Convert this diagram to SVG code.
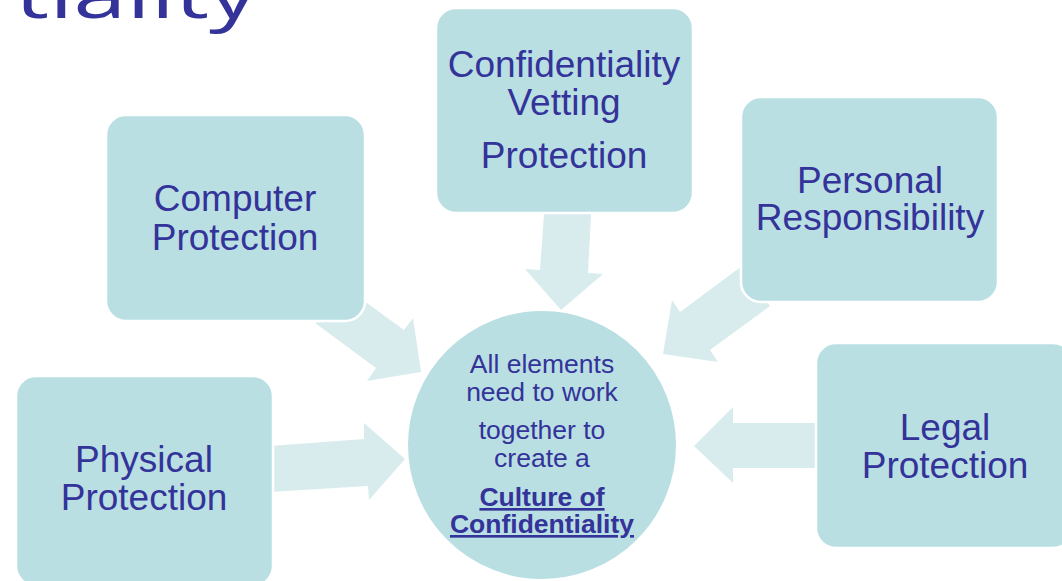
<svg xmlns="http://www.w3.org/2000/svg" width="1062" height="581" viewBox="0 0 1062 581">
<style>
.box{fill:#b9dfe3;stroke:#ffffff;stroke-width:2.5}
.arr{fill:#d8ecee;stroke:none}
.t{font-family:"Liberation Sans",Arial,sans-serif;font-size:37px;fill:#333399;text-anchor:middle}
.c{font-family:"Liberation Sans",Arial,sans-serif;font-size:26.5px;fill:#333399;text-anchor:middle}
.cb{font-weight:bold;text-decoration:underline}
.title{font-family:"Open Sans","DejaVu Sans",sans-serif;font-size:66px;fill:#333399}
</style>
<rect width="1062" height="581" fill="#ffffff"/>
<text class="title" x="15" y="18" textLength="242" lengthAdjust="spacingAndGlyphs">tiality</text>
<g id="connectors">
<polygon class="arr" points="544,214 591,214 588,273 603,274 561,310 525,269 540,270"/>
<polygon class="arr" points="367,303 404,330 413,318 421,372 367,381 376,368 315,323"/>
<polygon class="arr" points="742,266 680,312 672,300 663,354 718,362 710,350 770,306"/>
<polygon class="arr" points="820,423 733,423 733,407 694,446 733,483 733,468 820,468"/>
<polygon class="arr" points="270,446 364,439 364,423 405,459 369,500 368,486 270,492"/>
</g>
<g id="center">
<circle cx="542" cy="445" r="135" fill="#b9dfe3" stroke="#ffffff" stroke-width="2"/>
<text class="c" x="542" y="373">All elements</text>
<text class="c" x="542" y="401">need to work</text>
<text class="c" x="542" y="439">together to</text>
<text class="c" x="542" y="467">create a</text>
<text class="c cb" x="542" y="506">Culture of</text>
<text class="c cb" x="542" y="533">Confidentiality</text>
</g>
<g id="computer">
<rect class="box" x="106" y="115" width="259" height="206" rx="20"/>
<text class="t" x="235" y="211">Computer</text>
<text class="t" x="235" y="250">Protection</text>
</g>
<g id="vetting">
<rect class="box" x="436" y="8" width="257" height="205" rx="20"/>
<text class="t" x="564" y="77">Confidentiality</text>
<text class="t" x="564" y="115">Vetting</text>
<text class="t" x="564" y="168">Protection</text>
</g>
<g id="personal">
<rect class="box" x="741" y="97" width="257" height="205" rx="20"/>
<text class="t" x="870" y="193">Personal</text>
<text class="t" x="870" y="230">Responsibility</text>
</g>
<g id="physical">
<rect class="box" x="16" y="376" width="257" height="210" rx="20"/>
<text class="t" x="144" y="472">Physical</text>
<text class="t" x="144" y="510">Protection</text>
</g>
<g id="legal">
<rect class="box" x="816" y="343" width="257" height="205" rx="20"/>
<text class="t" x="945" y="440">Legal</text>
<text class="t" x="945" y="478">Protection</text>
</g>
</svg>
